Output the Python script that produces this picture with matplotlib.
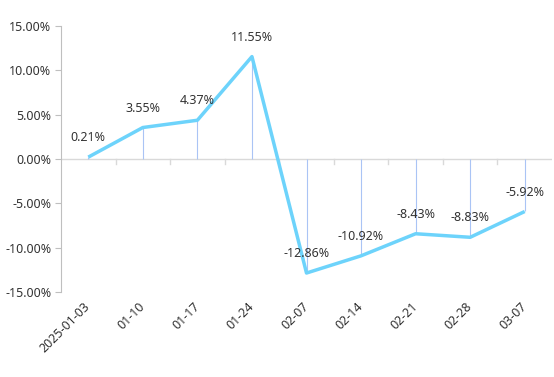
import matplotlib.pyplot as plt
from matplotlib.ticker import FuncFormatter, FixedLocator

dates = ["2025-01-03", "01-10", "01-17", "01-24", "02-07", "02-14", "02-21", "02-28", "03-07"]
returns = [0.21, 3.55, 4.37, 11.55, -12.86, -10.92, -8.43, -8.83, -5.92]

plt.rcParams["font.family"] = ["Noto Sans", "DejaVu Sans"]

fig = plt.figure(figsize=(5.54, 3.77), dpi=100)
ax = fig.add_axes([61 / 554, 1 - 292 / 377, 491 / 554, 266 / 377])

x = list(range(len(dates)))
# thin drop lines from each point to zero
ax.vlines(x, 0, returns, color="#aac4f5", linewidth=0.8, zorder=1)
ax.plot(x, returns, color="#6dd3fb", linewidth=2.5, solid_capstyle="butt", zorder=3)

for xi, v in zip(x, returns):
    ax.annotate(f"{v:.2f}%", (xi, v), xytext=(0, 14), textcoords="offset points",
                ha="center", va="center", fontsize=9, color="#333333")

ax.set_xlim(-0.5, len(dates) - 0.5)
ax.set_ylim(-15, 15)
ax.set_yticks([-15, -10, -5, 0, 5, 10, 15])
ax.yaxis.set_major_formatter(FuncFormatter(lambda v, p: f"{v:.2f}%"))

# zero line acts as the category axis
ax.axhline(0, color="#d9d9d9", linewidth=1, zorder=0)
for b in [i + 0.5 for i in range(len(dates) - 1)]:
    ax.plot([b, b], [0, -0.55], color="#d9d9d9", linewidth=1, zorder=0, clip_on=False)

ax.xaxis.set_major_locator(FixedLocator(x))
ax.set_xticklabels(dates, rotation=45, ha="right", va="center", rotation_mode="anchor",
                   fontsize=9, color="#333333")
ax.tick_params(axis="x", length=0, pad=9)
ax.tick_params(axis="y", length=4, color="#bfbfbf", labelsize=9, labelcolor="#333333", pad=3)

for s in ["top", "right", "bottom"]:
    ax.spines[s].set_visible(False)
ax.spines["left"].set_color("#bfbfbf")

fig.savefig("out.png", dpi=100)
